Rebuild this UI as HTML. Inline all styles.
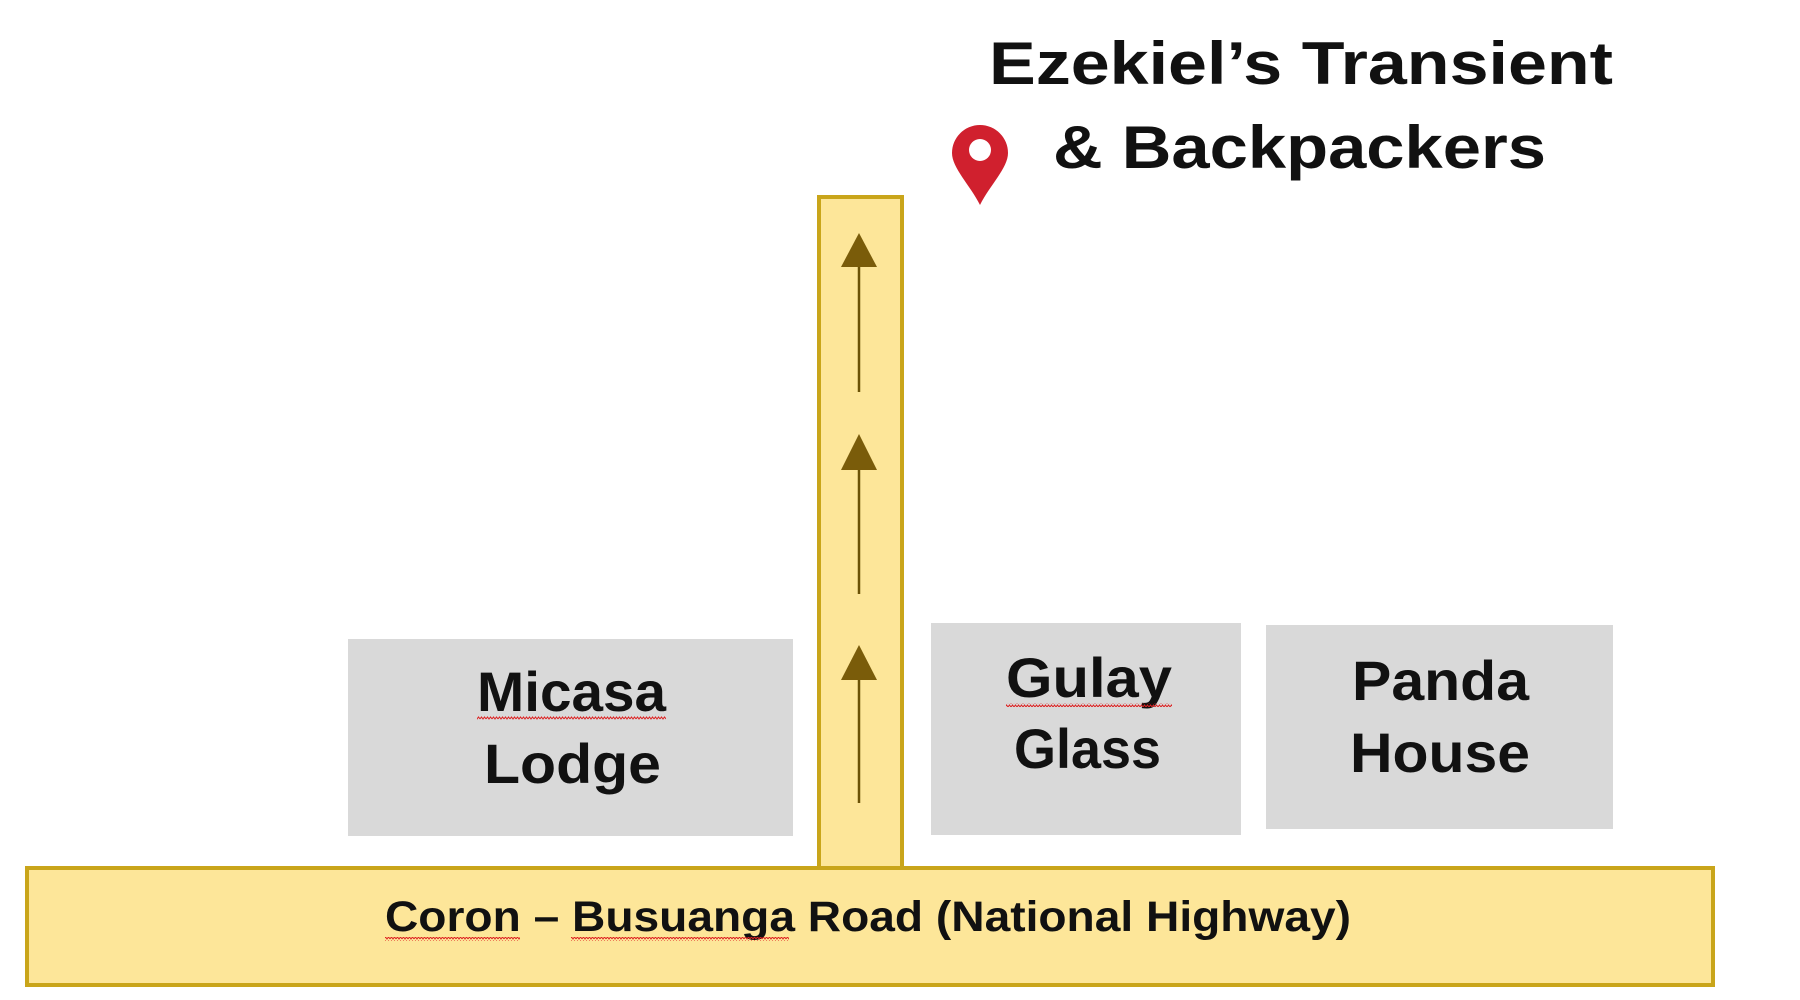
<!DOCTYPE html>
<html><head><meta charset="utf-8"><style>
html,body{margin:0;padding:0;background:#fff;width:1800px;height:1000px;overflow:hidden}
svg{display:block}
text{font-family:"Liberation Sans",sans-serif;font-weight:bold;fill:#111}
</style></head><body>
<svg width="1800" height="1000" viewBox="0 0 1800 1000">
<defs>
<pattern id="sq" width="6" height="4" patternUnits="userSpaceOnUse"><path d="M0 3 L1.5 1 L3 3 L4.5 1 L6 3" stroke="#d22" stroke-width="1" fill="none"/></pattern>
</defs>
<!-- boxes -->
<rect x="348" y="639" width="445" height="197" fill="#d9d9d9"/>
<rect x="931" y="623" width="310" height="212" fill="#d9d9d9"/>
<rect x="1266" y="625" width="347" height="204" fill="#d9d9d9"/>
<!-- vertical road -->
<rect x="819" y="197" width="83" height="672" fill="#fde699" stroke="#c9a51a" stroke-width="4"/>
<!-- highway -->
<rect x="27" y="868" width="1686" height="117" fill="#fde699" stroke="#c9a51a" stroke-width="4"/>
<!-- arrows -->
<g stroke="#6b5206" stroke-width="2.5" fill="#7a5c0a">
<line x1="859" y1="262" x2="859" y2="392"/>
<line x1="859" y1="466" x2="859" y2="594"/>
<line x1="859" y1="675" x2="859" y2="803"/>
<polygon points="859,233 841,267 877,267" stroke="none"/>
<polygon points="859,434 841,470 877,470" stroke="none"/>
<polygon points="859,645 841,680 877,680" stroke="none"/>
</g>
<!-- pin -->
<path d="M980 205 C970 185 952 168 952 153 A28 28 0 0 1 1008 153 C1008 168 990 185 980 205 Z" fill="#d0202e"/>
<circle cx="980" cy="150" r="11" fill="#fff"/>
<!-- title -->
<text x="989" y="84" font-size="60" textLength="624" lengthAdjust="spacingAndGlyphs">Ezekiel’s Transient</text>
<text x="1053" y="168" font-size="60" textLength="493" lengthAdjust="spacingAndGlyphs">&amp; Backpackers</text>
<!-- labels -->
<text x="477" y="711" font-size="56" textLength="189" lengthAdjust="spacingAndGlyphs">Micasa</text>
<rect x="477" y="716" width="189" height="4" fill="url(#sq)"/>
<text x="484" y="783" font-size="56" textLength="177" lengthAdjust="spacingAndGlyphs">Lodge</text>
<text x="1006" y="697" font-size="56" textLength="166" lengthAdjust="spacingAndGlyphs">Gulay</text>
<rect x="1006" y="703" width="166" height="4" fill="url(#sq)"/>
<text x="1014" y="768" font-size="56" textLength="147" lengthAdjust="spacingAndGlyphs">Glass</text>
<text x="1352" y="700" font-size="56" textLength="177" lengthAdjust="spacingAndGlyphs">Panda</text>
<text x="1350" y="772" font-size="56" textLength="180" lengthAdjust="spacingAndGlyphs">House</text>
<text x="385" y="931" font-size="43" textLength="966" lengthAdjust="spacingAndGlyphs">Coron – Busuanga Road (National Highway)</text>
<rect x="385" y="937" width="135" height="4" fill="url(#sq)"/>
<rect x="571" y="937" width="218" height="4" fill="url(#sq)"/>
</svg>
</body></html>
